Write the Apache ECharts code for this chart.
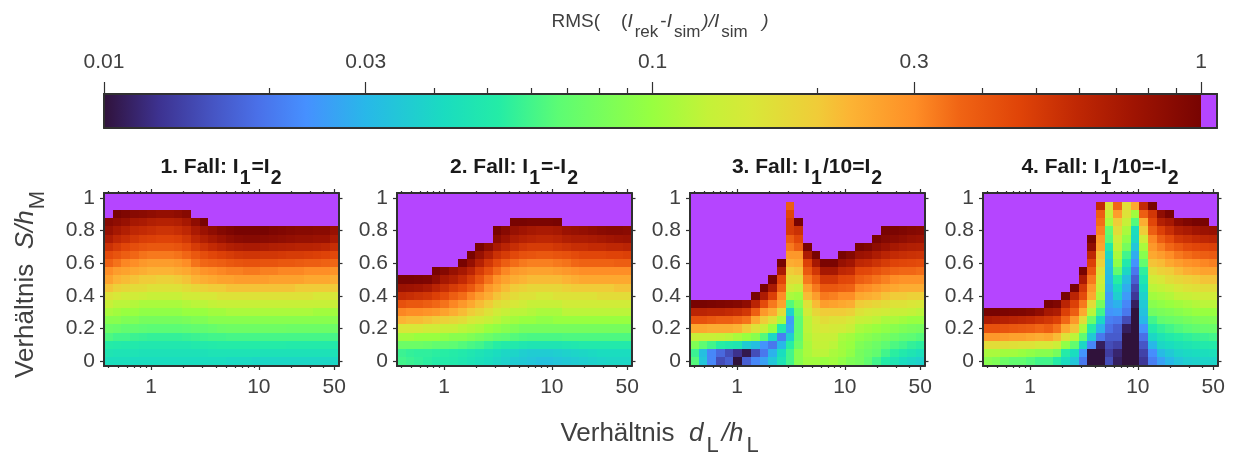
<!DOCTYPE html>
<html><head><meta charset="utf-8">
<style>html,body{margin:0;padding:0;background:#fff}#c{width:1233px;height:455px}</style>
<script src="https://cdn.jsdelivr.net/npm/echarts@6/dist/echarts.min.js"></script>
</head><body><div id="c"></div>
<script>
// Column positions (d_L/h_L) and row positions (S/h_M)
const ratioD = [0.4,0.48,0.58,0.7,0.84,1.01,1.22,1.47,1.77,2.13,2.56,3.09,3.72,4.48,5.39,6.49,7.82,9.42,11.34,13.66,16.44,19.8,23.85,28.71,34.58,41.63,50];
const ratioS = [0,0.05,0.1,0.15,0.2,0.25,0.3,0.35,0.4,0.45,0.5,0.55,0.6,0.65,0.7,0.75,0.8,0.85,0.9,0.95,1];
const P = 999; // above the colour range, in per cent
const titles = ['1. Fall: ','2. Fall: ','3. Fall: ','4. Fall: '];
const xMajor = [1,10,50];
const xMinor = [0.4,0.5,0.6,0.7,0.8,0.9,2,3,4,5,6,7,8,9,20,30,40];
const yMajor = [0,0.2,0.4,0.6,0.8,1];
const barMajor = [0.01,0.03,0.1,0.3,1];
const barMinor = [0.02,0.04,0.05,0.06,0.07,0.08,0.09,0.2,0.4,0.5,0.6,0.7,0.8,0.9];
const barBands = [[0.01,1],[1,1.0695]];
// RMS in per cent; case 1 and 2 by row (S = 0 upward), case 3 and 4 by column (S = 0 upward, missing = above range)
const fall1Rows = [
[4.3,4.3,4.3,4.2,4.2,4.2,4.2,4.2,4.2,4.2,4.2,4.2,4.2,4.2,4.1,4.1,4.1,4,4,4,4,4,4,4,4,4,4],
[4.7,4.6,4.6,4.6,4.5,4.5,4.5,4.5,4.5,4.5,4.5,4.5,4.6,4.6,4.6,4.6,4.6,4.6,4.5,4.5,4.5,4.5,4.5,4.5,4.5,4.5,4.5],
[5.2,5.1,5,5,4.9,4.9,4.9,4.9,4.9,4.9,5,5,5.1,5.2,5.2,5.2,5.2,5.2,5.2,5.2,5.2,5.1,5.1,5.1,5.1,5.1,5.1],
[6.3,6,6,5.8,5.7,5.6,5.6,5.6,5.6,5.7,5.8,5.9,6,6,6.1,6.1,6.1,6.1,6.1,6.1,6.1,6.1,6.1,6.1,6.1,6.1,6.1],
[7.5,7.3,7,7,6.8,6.7,6.7,6.7,6.7,6.8,7,7,7.2,7.5,7.6,7.6,7.6,7.6,7.6,7.6,7.6,7.5,7.5,7.5,7.5,7.5,7.5],
[9,9,8.5,8.5,8,8,8,8,8,8.2,8.5,8.5,9,9,9,9,9,9,9,9,9,9,9,9,9,9,9],
[11,10.5,10,10,9.5,9.5,9.5,9.5,9.5,10,10,10,10.5,10.5,11,11,11,11,11,11,11,11,11,11,10.5,10.5,10.5],
[13,12,12,11.5,11,11,11,11,11,11.5,12,12,12.5,13,13,13,13,13,13,13,13,13,13,13,13,13,13],
[16,15,14,14,13.5,13,13,13,13,14,14,15,15,16,16,16,16,16,16,16,16,16,16,16,15,15,15],
[21,19,18,17,17,16,16,16,16,17,18,19,20,20,21,21,21,21,21,21,21,21,20,20,20,20,20],
[26,23,22,21,20,20,19,19,20,21,23,24,25,26,26,27,27,27,27,26,26,26,26,25,25,25,24],
[30,27,26,25,24,23,23,23,24,25,27,29,30,31,32,32,33,33,32,32,31,31,31,30,30,30,29],
[37,34,31,30,28,27,27,27,28,30,34,36,37,38,40,41,42,42,41,41,40,40,39,38,38,37,36],
[44,41,38,36,34,33,33,33,34,36,40,43,46,48,50,52,53,53,52,52,51,50,50,49,48,47,45],
[55,50,46,43,41,40,40,40,41,44,50,54,58,62,66,68,70,70,68,66,65,64,63,63,62,60,56],
[68,60,56,52,49,48,47,47,48,52,60,66,72,78,84,88,90,90,88,86,84,82,80,80,78,78,70],
[80,72,66,60,58,56,54,54,56,60,70,78,85,92,96,100,100,100,100,96,94,92,90,90,88,88,80],
[90,85,80,72,70,66,64,64,66,72,85,100],
[P,100,95,90,88,85,82,82,85,90]
];
const fall2Rows = [
[6,5.8,5.6,5.4,5.2,5.1,5,4.8,4.6,4.4,4.2,4,3.8,3.6,3.5,3.4,3.3,3.3,3.4,3.5,3.6,3.7,3.8,3.9,4,4,4],
[5.8,5.6,5.5,5.5,5.4,5.3,5.2,5,4.8,4.6,4.4,4.2,4,3.9,3.7,3.6,3.6,3.6,3.7,3.8,3.9,4,4.1,4.2,4.2,4.2,4.2],
[7.5,7.5,7.5,7.3,7,7,6.8,6.5,6.2,6,5.6,5.3,5.1,5,4.8,4.7,4.7,4.7,4.7,4.8,4.9,5,5,5,5,5,5],
[10.5,10.5,10,10,10,9.5,9,9,8.5,8,7.5,7,6.8,6.5,6.3,6.2,6.2,6.2,6.2,6.3,6.3,6.3,6.3,6.3,6.3,6.3,6.3],
[15,15,15,14,14,13,13,12,11.5,11,10,9.5,9,8.5,8,8,8,8,8,8,8,8,8,8,8,8,8],
[23,22,22,21,20,19,18,17,15,14,13,12,11,10.5,10,10,9.5,9.5,10,10,10,10,10,10,10,10,10],
[31,30,30,29,28,26,24,22,20,18,16,14,13,12,12,11.5,11,11,11,12,12,12,12,12,12,12,12],
[42,40,40,38,36,34,31,28,25,22,20,17,16,15,14,13,13,13,13,14,14,14,14,14,14,14,14],
[58,56,54,52,48,44,38,35,31,27,24,21,19,17,16,16,15,15,16,16,16,16,16,17,17,17,17],
[78,76,74,70,62,56,50,46,40,34,28,25,22,20,19,18,18,18,18,19,20,20,20,20,20,21,21],
[100,100,98,96,85,72,66,58,50,41,34,29,26,24,23,22,22,22,22,23,24,25,25,25,25,25,25],
[P,P,P,P,100,92,80,72,62,50,42,35,31,28,27,26,26,26,27,28,29,30,30,30,30,30,30],
[P,P,P,P,P,P,P,100,82,64,52,44,38,35,33,32,32,32,33,34,36,37,37,37,37,38,38],
[P,P,P,P,P,P,P,P,100,80,66,55,50,45,42,41,40,40,41,42,44,46,46,46,47,47,48],
[P,P,P,P,P,P,P,P,P,100,85,70,62,56,52,50,50,50,52,54,56,56,58,58,60,60,62],
[P,P,P,P,P,P,P,P,P,P,P,88,78,68,64,62,60,60,62,66,68,68,70,72,74,76,78],
[P,P,P,P,P,P,P,P,P,P,P,100,90,80,75,72,70,70,72,78,80,82,85,88,90,90,88],
[P,P,P,P,P,P,P,P,P,P,P,P,P,100,100,98,98,98,100]
];
const fall3Cols = [
[6.5,5.8,8.5,13,25,42,62,100],
[3.4,3.2,6.8,13,25,42,62,100],
[2.2,2.2,6,13,24,40,60,98],
[1.5,1.8,5.3,12.5,24,38,60,96],
[1.7,1.5,5,12,24,38,58,94],
[1,1.25,4.8,11,23,36,56,92],
[1.7,1.05,3.6,10,20,34,52,85],
[2.2,1.5,3.2,9,16,25,38,62,100],
[2.6,2,2.4,6.5,13,20,28,44,68,100],
[3.4,2.9,2,4,10,16,24,33,48,70,100],
[4.6,4.2,3,2.1,5,11,17,26,30,37,46,70,100],
[6,6,5.3,3.7,2.7,2.5,3.8,6.5,11,14,17,20,24,28,33,38,50,50,46,38],
[9,9,7.5,7,6.8,6.8,7.5,9,10.5,13,17,21,25,28,38,46,55,100],
[10.5,11,11,11.5,12,12,14,16,22,26,33,40,48,68,100],
[10.5,12,12.5,13,14,15,18,22,27,33,40,52,72,100],
[10,12,12.5,13,15,17,20,27,33,40,52,72,98],
[10.5,11,12,13,14.5,16,20,26,32,40,52,72,98],
[9.5,10.5,10.5,11,14,16,20,25,30,38,46,60,80,100],
[8.5,9.5,10,10.5,13,15,19,24,30,37,45,58,74,92],
[8,8,8.5,9.5,11,13,16,20,25,31,38,46,60,78,100],
[7,7.5,8,9,10.5,12.5,15,19,24,30,36,45,58,75,95],
[6,7,7.5,8.5,10,12,14.5,18,23,28,34,42,54,68,85,100],
[5.2,6,6.8,8,9.5,11,14,17,21,26,32,39,50,62,78,92,100],
[4.7,5.4,6.3,7.5,9,11,13,16,20,25,30,37,47,58,72,88,98],
[4.2,5,6,7,8.5,10.5,13,16,20,24,29,36,46,56,68,84,95],
[4,4.7,5.6,6.8,8.2,10,12.5,15.5,19,24,29,36,45,55,66,80,92],
[3.8,4.4,5.4,6.5,8,10,12,15,19,24,29,35,44,54,65,78,90]
];
const fall4Cols = [
[9,11,17,28,42,68,100],
[8.5,11,17,28,42,66,100],
[7.5,10.5,17,27,41,64,98],
[7,10.5,16.5,26,40,62,96],
[7,10,16,26,39,60,95],
[6.5,9.5,16,25,38,58,92],
[6,9,15,24,36,55,85],
[6,9,15,25,38,52,72,100],
[5.2,8,13.5,22,34,48,68,95],
[4.2,5.2,9.5,16,25,36,48,62,100],
[3.4,4.2,7,12,21,28,38,48,62,100],
[2,2.4,4,6.8,11,17,25,33,44,52,70,100],
[1,1,2.2,3.5,5.2,7.5,12,17,25,28,33,40,48,60,85,100],
[1,1,1.1,2,2.9,4,6,8,11,12.5,14,16,19,21,26,28,32,35,38,58],
[1.5,1.35,1.5,1.65,1.9,2.1,2.4,2.6,2.5,2.8,3,3.2,3.4,4,5,6.5,7,11,12.5,16],
[1.1,1.15,1.4,1.65,1.7,2,2.5,2.9,3.7,4.2,5.3,7,9.5,11,12.5,14,17,20,27,36],
[1,1,1,1,1.1,1.5,2,2.2,2.5,2.8,3.2,4,5,6,8,9.5,11,13,16,17],
[1,1,1,1,1,1,1,1.1,1.3,1.45,1.7,2,2.4,2.8,3.4,4,4.3,6.5,10.5,25],
[1.3,1.4,1.6,1.9,2.4,3,3.3,3.5,3.8,4.2,4.8,5.5,7,9,11,14,20,24,38,58],
[2.1,2.3,3,4,5,6,7.8,9,10.5,12,14,17,21,25,28,31,38,46,52,100],
[2.6,3.1,4,4.6,5.6,7,8.2,9.5,11,12.5,15,19,22,27,32,38,48,65,85],
[3,3.5,4.2,5,6,7.3,8.5,10,11.5,13.5,17,20,25,30,36,44,56,72,100],
[3.4,3.9,4.5,5.3,6.4,7.6,9,10.5,12.5,15,18,22,27,33,40,52,66,88],
[3.7,4.1,4.7,5.5,6.7,8,9.5,11,13,16,19,24,29,35,44,55,70,95],
[3.8,4.2,4.9,5.7,7,8.3,10,11.5,13.5,16.5,20,25,30,37,46,58,75,100],
[3.9,4.3,5,5.8,7.2,8.5,10,12,14,17,21,26,31,38,47,60,78,100],
[3.9,4.4,5.1,6,7.3,8.6,10,12,14,17,21,26,32,39,48,62,80]
];
// Colour ramp: position along the bar (0..1, log RMS) and colour
const rampPos = [0,0.05,0.1,0.14,0.184,0.239,0.31,0.36,0.414,0.5,0.55,0.59,0.65,0.68,0.739,0.78,0.834,0.886,0.938,1];
const rampCol = ['#30123b','#3d3290','#4655c4','#4a70e8','#4690ff','#28b8e8','#1adcc0','#24eca6','#5cfc74','#98ff40','#c4f238','#d8e838','#f0cc38','#fcb434','#fe8e26','#f06414','#e04408','#c02804','#a01402','#780402'];
const overColor = '#b545ff';

function hex(c){return [1,3,5].map(i=>parseInt(c.slice(i,i+2),16));}
function rmsColor(pct){
  if(pct>100) return overColor;
  const t=Math.max(0,Math.log10(pct/100)/2+1);
  let i=0; while(i<rampPos.length-2&&t>rampPos[i+1]) i++;
  const f=(t-rampPos[i])/(rampPos[i+1]-rampPos[i]);
  const a=hex(rampCol[i]),b=hex(rampCol[i+1]);
  return 'rgb('+a.map((v,k)=>Math.round(v+(b[k]-v)*f)).join(',')+')';
}
const xMin=0.365,xMax=54.9,yMin=-0.03,yMax=1.03;
const panels=[fall1Rows,fall2Rows,fall3Cols,fall4Cols];
function cells(m,byCol){
  const out=[];
  ratioD.forEach((d,c)=>ratioS.forEach((s,r)=>{
    const row=byCol?m[c]:m[r];
    const idx=byCol?r:c;
    const v=row&&row[idx]!==undefined?row[idx]:P;
    out.push([d,s,v,c,r]);
  }));
  return out;
}
function edge(c){
  if(c<=0) return xMin;
  if(c>=ratioD.length) return xMax;
  return Math.sqrt(ratioD[c-1]*ratioD[c]);
}
function renderCell(p,api){
  const c=api.value(3),r=api.value(4);
  const y0=r===0?yMin:ratioS[r]-0.025, y1=r===ratioS.length-1?yMax:ratioS[r]+0.025;
  const a=api.coord([edge(c),y0]), b=api.coord([edge(c+1),y1]);
  const x=Math.round(a[0]),x2=Math.round(b[0]),yy=Math.round(b[1]),yy2=Math.round(a[1]);
  return {type:'rect',shape:{x:x,y:yy,width:x2-x,height:yy2-yy},style:{fill:rmsColor(api.value(2))}};
}
const FONT='"Liberation Sans",Arial,sans-serif', INK='#404040', BOX='#303030';
const lefts=[104,397,690,983];
const grid=[],xAxis=[],yAxis=[],series=[];
function xa(g,pos,type,min,max,vals,len,label,margin){
  const o={type:type,gridIndex:g,position:pos,min:min,max:max,logBase:10,z:5,silent:true,
    axisLine:{show:true,onZero:false,lineStyle:{color:BOX,width:2}},
    axisTick:{show:!!vals,length:len,customValues:vals||undefined,inside:false,lineStyle:{color:BOX,width:1.2}},
    axisLabel:{show:!!label,customValues:label||undefined,color:INK,fontFamily:FONT,fontSize:21,margin:margin||11,hideOverlap:false,showMinLabel:true,showMaxLabel:true,
      formatter:v=>String(+(+v).toPrecision(2))},
    splitLine:{show:false},minorTick:{show:false}};
  xAxis.push(o);return xAxis.length-1;
}
function ya(g,pos,min,max,vals,label){
  yAxis.push({type:'value',gridIndex:g,position:pos,min:min,max:max,z:5,silent:true,
    axisLine:{show:true,onZero:false,lineStyle:{color:BOX,width:2}},
    axisTick:{show:!!vals,length:4,customValues:vals||undefined,lineStyle:{color:BOX,width:1.2}},
    axisLabel:{show:!!label,customValues:label||undefined,color:INK,fontFamily:FONT,fontSize:21,margin:9,formatter:v=>String(v)},
    splitLine:{show:false}});
  return yAxis.length-1;
}
// colour bar
grid.push({left:104,top:94,width:1113,height:34});
const cbX=xa(0,'top','log',0.01,1.0695,barMajor,12,barMajor,21);
xa(0,'top','log',0.01,1.0695,barMinor,6);
xa(0,'bottom','log',0.01,1.0695,null,0);
const cbY=ya(0,'left',0,1);
ya(0,'right',0,1);
series.push({type:'custom',xAxisIndex:cbX,yAxisIndex:cbY,z:1,silent:true,clip:false,
  data:barBands.map((b,i)=>[b[0],b[1],i]),
  renderItem:(p,api)=>{
    const a=api.coord([api.value(0),0]),b=api.coord([api.value(1),1]);
    const i=api.value(2);
    return {type:'rect',shape:{x:a[0],y:b[1],width:b[0]-a[0],height:a[1]-b[1]},
      style:{fill:i===0?new echarts.graphic.LinearGradient(0,0,1,0,rampPos.map((q,k)=>({offset:q,color:rampCol[k]}))):overColor}};
  }});
panels.forEach((m,i)=>{
  const g=grid.length;
  grid.push({left:lefts[i],top:193,width:234.5,height:173});
  const xb=xa(g,'bottom','log',xMin,xMax,xMajor,4,xMajor);
  xa(g,'bottom','log',xMin,xMax,xMinor,2);
  xa(g,'top','log',xMin,xMax,xMajor,4);
  xa(g,'top','log',xMin,xMax,xMinor,2);
  const yl=ya(g,'left',yMin,yMax,yMajor,yMajor);
  ya(g,'right',yMin,yMax,yMajor);
  series.push({type:'custom',xAxisIndex:xb,yAxisIndex:yl,z:1,silent:true,clip:false,
    data:cells(m,i>=2),renderItem:renderCell});
});
const titleTail=['I{s|1}=I{s|2}','I{s|1}=-I{s|2}','I{s|1}/10=I{s|2}','I{s|1}/10=-I{s|2}'];
const graphic=[];
titles.forEach((t,i)=>{
  const parts=titleTail[i].split(/(\{s\|\d\})/).filter(Boolean)
    .map(q=>q.startsWith('{')?q:'{b|'+q+'}').join('');
  graphic.push({type:'text',x:lefts[i]+117.5,y:173,silent:true,
    style:{text:'{b|'+t+'}'+parts,align:'center',verticalAlign:'middle',
      rich:{b:{fontFamily:FONT,fontWeight:'bold',fontSize:21,fill:'#1a1a1a',padding:[0,0,11,0]},
            s:{fontFamily:FONT,fontWeight:'bold',fontSize:19.5,fill:'#1a1a1a',padding:[11,1,0,1]}}}});
});
const base={fontFamily:FONT,fill:INK};
graphic.push({type:'text',x:660,y:27,silent:true,style:{align:'center',verticalAlign:'middle',
  text:'{n|RMS(    (}{i|I}{s|rek}{n|-}{i|I}{s|sim}{i|)/I}{s|sim}{g|  }{i|)}',
  rich:{n:{...base,fontSize:19,padding:[0,0,10,0]},g:{...base,fontSize:19,padding:[0,2,10,0]},i:{...base,fontSize:19,fontStyle:'italic',padding:[0,0,10,0]},s:{...base,fontSize:17,padding:[10,2,0,2]}}}});
graphic.push({type:'text',x:661,y:440,silent:true,style:{align:'center',verticalAlign:'middle',
  text:'{n|Verhältnis  }{i|d}{s|L}{i|/h}{s|L}',
  rich:{n:{...base,fontSize:26,padding:[0,0,12,0]},i:{...base,fontSize:26,fontStyle:'italic',padding:[0,0,12,0]},s:{...base,fontSize:22,padding:[12,3,0,3]}}}});
graphic.push({type:'text',x:32,y:284,rotation:Math.PI/2,silent:true,style:{align:'center',verticalAlign:'middle',
  text:'{n|Verhältnis  }{i|S/h}{s|M}',
  rich:{n:{...base,fontSize:26,padding:[0,0,12,0]},i:{...base,fontSize:26,fontStyle:'italic',padding:[0,0,12,0]},s:{...base,fontSize:22,padding:[12,1,0,1]}}}});
const chart=echarts.init(document.getElementById('c'),null,{renderer:'canvas'});
chart.setOption({animation:false,backgroundColor:'#fff',grid,xAxis,yAxis,series,graphic});
</script></body></html>
